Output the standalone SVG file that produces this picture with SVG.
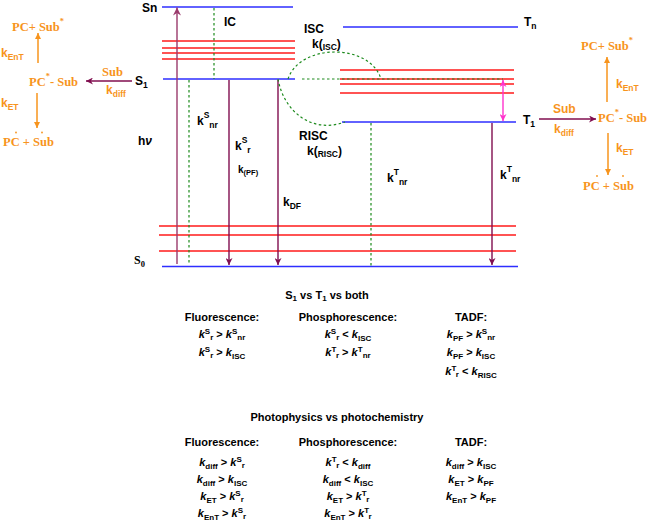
<svg xmlns="http://www.w3.org/2000/svg" width="649" height="523" viewBox="0 0 649 523">
<defs>
<style>
.lbl{font-family:"Liberation Sans",Arial,sans-serif;font-weight:bold;font-size:12px;fill:#000}
.sm{font-size:8.5px}
.sr{font-family:"Liberation Serif","Times New Roman",serif}
.or{font-family:"Liberation Serif","Times New Roman",serif;font-weight:bold;font-size:12.5px;fill:#F7941D}
.ok{font-family:"Liberation Sans",Arial,sans-serif;font-weight:bold;font-size:12px;fill:#F7941D}
.t{font-family:"Liberation Sans",Arial,sans-serif;font-weight:bold;font-size:11px;fill:#000;text-anchor:middle}
.i{font-style:italic}
.s{font-size:8px}
.dot{fill:#F7941D}
.red{stroke:#FF1A1A;stroke-width:1.3}
.blue{stroke:#2E2EFF;stroke-width:1.6}
.grn{stroke:#1C8A1C;stroke-width:1.2;stroke-dasharray:2.5 2.5;fill:none}
.mar{stroke:#800E4F;stroke-width:1.4;fill:none}
.hv{stroke:#9A3A6C;stroke-width:1.4;fill:none}
.org{stroke:#F7941D;stroke-width:1.5;fill:none}
.mag{stroke:#FF33CC;stroke-width:1.4}
</style>
<marker id="am" viewBox="0 0 10 10" refX="10" refY="5" markerWidth="9" markerHeight="7" markerUnits="userSpaceOnUse" orient="auto"><path d="M0,0 L10,5 L0,10 L3,5 z" fill="#800E4F"/></marker>
<marker id="ahv" viewBox="0 0 10 10" refX="10" refY="5" markerWidth="10" markerHeight="8" markerUnits="userSpaceOnUse" orient="auto"><path d="M0,0 L10,5 L0,10 L3,5 z" fill="#9A3A6C"/></marker>
<marker id="ao" viewBox="0 0 10 10" refX="10" refY="5" markerWidth="9" markerHeight="6" markerUnits="userSpaceOnUse" orient="auto"><path d="M0,0 L10,5 L0,10 z" fill="#F7941D"/></marker>
<marker id="ag" viewBox="0 0 10 10" refX="10" refY="5" markerWidth="8" markerHeight="7" markerUnits="userSpaceOnUse" orient="auto-start-reverse"><path d="M0,0 L10,5 L0,10 L3,5 z" fill="#FF33CC"/></marker>
</defs>
<rect width="649" height="523" fill="#fff"/>

<g id="Sn">
<line class="blue" x1="162" y1="7" x2="293" y2="7"/>
<text class="lbl" x="142" y="12">Sn</text>
</g>
<g id="S1-vib">
<line class="red" x1="162" y1="41" x2="295" y2="41"/>
<line class="red" x1="162" y1="48" x2="295" y2="48"/>
<line class="red" x1="162" y1="53" x2="295" y2="53"/>
<line class="red" x1="162" y1="59" x2="295" y2="59"/>
</g>
<g id="S1">
<line class="blue" x1="163" y1="79" x2="295" y2="79"/>
<text class="lbl" x="135" y="85">S<tspan class="sm" dy="3">1</tspan></text>
</g>
<g id="Tn">
<line class="blue" x1="343" y1="27" x2="518" y2="27"/>
<text class="lbl" x="524" y="26">T<tspan class="sm" dy="3">n</tspan></text>
</g>
<g id="T1-vib">
<line class="red" x1="340" y1="70" x2="514" y2="70"/>
<line class="red" x1="340" y1="79" x2="514" y2="79"/>
<line class="red" x1="340" y1="84" x2="514" y2="84"/>
<line class="red" x1="340" y1="93" x2="514" y2="93"/>
</g>
<g id="T1">
<line class="blue" x1="342" y1="122" x2="516" y2="122"/>
<text class="lbl" x="523" y="124">T<tspan class="sm" dy="3">1</tspan></text>
</g>
<g id="S0-vib">
<line class="red" x1="159" y1="226" x2="516" y2="226"/>
<line class="red" x1="159" y1="235" x2="516" y2="235"/>
<line class="red" x1="159" y1="251" x2="516" y2="251"/>
</g>
<g id="S0">
<line class="blue" x1="162" y1="266.5" x2="518" y2="266.5"/>
<text class="lbl sr" x="134" y="264">S<tspan class="sm" dy="3">0</tspan></text>
</g>

<g id="connectors">
<line class="hv" x1="177" y1="264" x2="177" y2="7.5" marker-end="url(#ahv)"/>
<line class="grn" x1="214" y1="8" x2="214" y2="79"/>
<line class="grn" x1="189" y1="80" x2="189" y2="265"/>
<line class="mar" x1="229" y1="80" x2="229" y2="265" marker-end="url(#am)"/>
<line class="mar" x1="278" y1="80" x2="278" y2="265" marker-end="url(#am)"/>
<line class="grn" x1="371" y1="123" x2="371" y2="266"/>
<line class="mar" x1="492" y1="123" x2="492" y2="265" marker-end="url(#am)"/>
<line class="mag" x1="503" y1="80" x2="503" y2="121" marker-start="url(#ag)" marker-end="url(#ag)"/>
<path class="grn" d="M288,79 C300,43 370,43 381,79"/>
<path class="grn" d="M278,79 C284,112 312,134 345,122"/>
<line class="grn" x1="302" y1="79" x2="503" y2="79"/>
<line class="mar" x1="132" y1="81" x2="86" y2="81" marker-end="url(#am)"/>
<line class="mar" x1="539" y1="119" x2="596" y2="119" marker-end="url(#am)"/>
<line class="org" x1="38" y1="63" x2="38" y2="33" marker-end="url(#ao)"/>
<line class="org" x1="37" y1="93" x2="37" y2="128" marker-end="url(#ao)"/>
<line class="org" x1="607" y1="102" x2="607" y2="57" marker-end="url(#ao)"/>
<line class="org" x1="608" y1="133" x2="608" y2="175" marker-end="url(#ao)"/>
</g>

<g id="transition-labels">
<text class="lbl" x="138" y="145">h<tspan class="i">ν</tspan></text>
<text class="lbl" x="224" y="26">IC</text>
<text class="lbl" x="304" y="33">ISC</text>
<text class="lbl" x="312" y="48">k(<tspan class="sm" dy="2">ISC</tspan><tspan dy="-2">)</tspan></text>
<text class="lbl" x="299" y="140">RISC</text>
<text class="lbl" x="307" y="155">k(<tspan class="sm" dy="2">RISC</tspan><tspan dy="-2">)</tspan></text>
<text class="lbl" x="197" y="125">k<tspan class="sm" dy="-7">S</tspan><tspan class="sm" dy="10">nr</tspan></text>
<text class="lbl" x="235" y="150">k<tspan class="sm" dy="-7">S</tspan><tspan class="sm" dy="10">r</tspan></text>
<text class="lbl" x="238" y="173" style="font-size:10px">k<tspan style="font-size:7.5px" dy="2">(PF)</tspan></text>
<text class="lbl" x="283" y="206">k<tspan class="sm" dy="3">DF</tspan></text>
<text class="lbl" x="387" y="182">k<tspan class="sm" dy="-7">T</tspan><tspan class="sm" dy="10">nr</tspan></text>
<text class="lbl" x="500" y="179">k<tspan class="sm" dy="-7">T</tspan><tspan class="sm" dy="10">nr</tspan></text>
</g>

<g id="pc-left">
<text class="or" x="12" y="31">PC+ Sub<tspan class="sm" dy="-7">*</tspan></text>
<text class="ok" x="1" y="57">k<tspan class="sm" dy="3">EnT</tspan></text>
<text class="or" x="29" y="86">PC<tspan class="sm" dy="-7">*</tspan><tspan dy="7">- Sub</tspan></text>
<text class="ok" x="1" y="107">k<tspan class="sm" dy="3">ET</tspan></text>
<text class="or" x="3" y="146">PC + Sub</text>
<circle class="dot" cx="16" cy="132.5" r="0.9"/>
<circle class="dot" cx="42" cy="132.5" r="0.9"/>
<text class="or" x="102" y="76">Sub</text>
<text class="ok" x="106" y="94">k<tspan class="sm" dy="3">diff</tspan></text>
</g>

<g id="pc-right">
<text class="or" x="581" y="50">PC+ Sub<tspan class="sm" dy="-7">*</tspan></text>
<text class="ok" x="616" y="88">k<tspan class="sm" dy="3">EnT</tspan></text>
<text class="or" x="598" y="122">PC<tspan class="sm" dy="-7">*</tspan><tspan dy="7">- Sub</tspan></text>
<text class="ok" x="616" y="152">k<tspan class="sm" dy="3">ET</tspan></text>
<text class="or" x="583" y="190">PC + Sub</text>
<circle class="dot" cx="597" cy="176" r="0.9"/>
<circle class="dot" cx="623" cy="176" r="0.9"/>
<text class="ok" x="553" y="113">Sub</text>
<text class="ok" x="554" y="133">k<tspan class="sm" dy="3">diff</tspan></text>
</g>

<g id="table-1">
<text class="t" x="327" y="299">S<tspan class="s" dy="2">1</tspan><tspan dy="-2"> vs T</tspan><tspan class="s" dy="2">1</tspan><tspan dy="-2"> vs both</tspan></text>
<text class="t" x="222" y="321">Fluorescence:</text>
<text class="t" x="348" y="321">Phosphorescence:</text>
<text class="t" x="471" y="321">TADF:</text>
<text class="t" x="222" y="338"><tspan class="i">k</tspan><tspan class="s" dy="-4">S</tspan><tspan class="s" dy="6">r</tspan><tspan dy="-2"> &gt; </tspan><tspan class="i">k</tspan><tspan class="s" dy="-4">S</tspan><tspan class="s" dy="6">nr</tspan></text>
<text class="t" x="222" y="356"><tspan class="i">k</tspan><tspan class="s" dy="-4">S</tspan><tspan class="s" dy="6">r</tspan><tspan dy="-2"> &gt; </tspan><tspan class="i">k</tspan><tspan class="s" dy="3">ISC</tspan></text>
<text class="t" x="348" y="338"><tspan class="i">k</tspan><tspan class="s" dy="-4">S</tspan><tspan class="s" dy="6">r</tspan><tspan dy="-2"> &lt; </tspan><tspan class="i">k</tspan><tspan class="s" dy="3">ISC</tspan></text>
<text class="t" x="348" y="356"><tspan class="i">k</tspan><tspan class="s" dy="-4">T</tspan><tspan class="s" dy="6">r</tspan><tspan dy="-2"> &gt; </tspan><tspan class="i">k</tspan><tspan class="s" dy="-4">T</tspan><tspan class="s" dy="6">nr</tspan></text>
<text class="t" x="471" y="338"><tspan class="i">k</tspan><tspan class="s" dy="3">PF</tspan><tspan dy="-3"> &gt; </tspan><tspan class="i">k</tspan><tspan class="s" dy="-4">S</tspan><tspan class="s" dy="6">nr</tspan></text>
<text class="t" x="471" y="356"><tspan class="i">k</tspan><tspan class="s" dy="3">PF</tspan><tspan dy="-3"> &gt; </tspan><tspan class="i">k</tspan><tspan class="s" dy="3">ISC</tspan></text>
<text class="t" x="471" y="375"><tspan class="i">k</tspan><tspan class="s" dy="-4">T</tspan><tspan class="s" dy="6">r</tspan><tspan dy="-2"> &lt; </tspan><tspan class="i">k</tspan><tspan class="s" dy="3">RISC</tspan></text>
</g>

<g id="table-2">
<text class="t" x="337" y="421">Photophysics vs photochemistry</text>
<text class="t" x="222" y="446">Fluorescence:</text>
<text class="t" x="348" y="446">Phosphorescence:</text>
<text class="t" x="471" y="446">TADF:</text>
<text class="t" x="222" y="466"><tspan class="i">k</tspan><tspan class="s" dy="3">diff</tspan><tspan dy="-3"> &gt; </tspan><tspan class="i">k</tspan><tspan class="s" dy="-4">S</tspan><tspan class="s" dy="6">r</tspan></text>
<text class="t" x="222" y="483"><tspan class="i">k</tspan><tspan class="s" dy="3">diff</tspan><tspan dy="-3"> &gt; </tspan><tspan class="i">k</tspan><tspan class="s" dy="3">ISC</tspan></text>
<text class="t" x="222" y="500"><tspan class="i">k</tspan><tspan class="s" dy="3">ET</tspan><tspan dy="-3"> &gt; </tspan><tspan class="i">k</tspan><tspan class="s" dy="-4">S</tspan><tspan class="s" dy="6">r</tspan></text>
<text class="t" x="222" y="517"><tspan class="i">k</tspan><tspan class="s" dy="3">EnT</tspan><tspan dy="-3"> &gt; </tspan><tspan class="i">k</tspan><tspan class="s" dy="-4">S</tspan><tspan class="s" dy="6">r</tspan></text>
<text class="t" x="348" y="466"><tspan class="i">k</tspan><tspan class="s" dy="-4">T</tspan><tspan class="s" dy="6">r</tspan><tspan dy="-2"> &lt; </tspan><tspan class="i">k</tspan><tspan class="s" dy="3">diff</tspan></text>
<text class="t" x="348" y="483"><tspan class="i">k</tspan><tspan class="s" dy="3">diff</tspan><tspan dy="-3"> &lt; </tspan><tspan class="i">k</tspan><tspan class="s" dy="3">ISC</tspan></text>
<text class="t" x="348" y="500"><tspan class="i">k</tspan><tspan class="s" dy="3">ET</tspan><tspan dy="-3"> &gt; </tspan><tspan class="i">k</tspan><tspan class="s" dy="-4">T</tspan><tspan class="s" dy="6">r</tspan></text>
<text class="t" x="348" y="517"><tspan class="i">k</tspan><tspan class="s" dy="3">EnT</tspan><tspan dy="-3"> &gt; </tspan><tspan class="i">k</tspan><tspan class="s" dy="-4">T</tspan><tspan class="s" dy="6">r</tspan></text>
<text class="t" x="471" y="466"><tspan class="i">k</tspan><tspan class="s" dy="3">diff</tspan><tspan dy="-3"> &gt; </tspan><tspan class="i">k</tspan><tspan class="s" dy="3">ISC</tspan></text>
<text class="t" x="471" y="483"><tspan class="i">k</tspan><tspan class="s" dy="3">ET</tspan><tspan dy="-3"> &gt; </tspan><tspan class="i">k</tspan><tspan class="s" dy="3">PF</tspan></text>
<text class="t" x="471" y="500"><tspan class="i">k</tspan><tspan class="s" dy="3">EnT</tspan><tspan dy="-3"> &gt; </tspan><tspan class="i">k</tspan><tspan class="s" dy="3">PF</tspan></text>
</g>
</svg>
